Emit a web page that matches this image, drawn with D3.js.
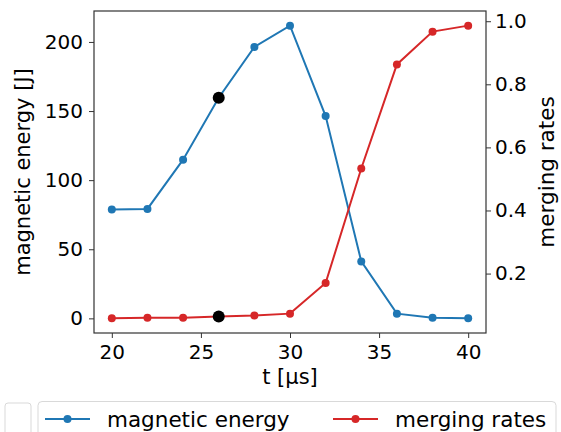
<!DOCTYPE html>
<html>
<head>
<meta charset="utf-8">
<script src="https://cdn.jsdelivr.net/npm/d3@7"></script>
<style>
  body { margin: 0; background: #fff; }
  text { font-family: "DejaVu Sans", sans-serif; fill: #000; }
</style>
</head>
<body>
<div id="chart"></div>
<script>
// data
let times = [20, 22, 24, 26, 28, 30, 32, 34, 36, 38, 40];
let energy = [78.7, 79.2, 114.8, 159.6, 196.4, 211.8, 146.4, 41.2, 3.4, 0.5, 0.0];
let rates = [0.058, 0.060, 0.060, 0.064, 0.067, 0.073, 0.17, 0.533, 0.863, 0.967, 0.986];
let highlightT = 26;
let xTicks = [20, 25, 30, 35, 40];
let leftTicks = [0, 50, 100, 150, 200];
let rightTicks = [0.2, 0.4, 0.6, 0.8, 1.0];
let seriesNames = ["magnetic energy", "merging rates"];
let colors = ["#1f77b4", "#d62728"];

let margin = {top: 11, right: 75, bottom: 99, left: 94};
let W = 561, H = 432;
let w = W - margin.left - margin.right;
let h = H - margin.top - margin.bottom;

let svg = d3.select("#chart").append("svg")
    .attr("width", W)
    .attr("height", H);

let g = svg.append("g")
    .attr("transform", `translate(${margin.left}, ${margin.top})`);

// matplotlib style 5% margins
function padded(lo, hi) {
  let p = (hi - lo) * 0.05;
  return [lo - p, hi + p];
}

let x = d3.scaleLinear().domain(padded(20, 40)).range([0, w]);
let yl = d3.scaleLinear().domain(padded(0, d3.max(energy))).range([h, 0]);
let yr = d3.scaleLinear().domain(padded(d3.min(rates), d3.max(rates))).range([h, 0]);

let tickFs = 20;
let labelFs = 21;
let legendFs = 21.5;

function styleAxis(sel) {
  sel.selectAll(".domain").remove();
  sel.selectAll(".tick line").attr("stroke", "#333").attr("stroke-width", 1);
  sel.selectAll(".tick text").attr("font-size", tickFs).attr("font-family", "DejaVu Sans").attr("fill", "#000");
}

g.append("g")
    .attr("transform", `translate(0, ${h})`)
    .call(d3.axisBottom(x).tickValues(xTicks).tickSize(5).tickPadding(7))
    .call(styleAxis);

g.append("g")
    .call(d3.axisLeft(yl).tickValues(leftTicks).tickSize(5).tickPadding(6))
    .call(styleAxis);

g.append("g")
    .attr("transform", `translate(${w}, 0)`)
    .call(d3.axisRight(yr).tickValues(rightTicks).tickFormat(d3.format(".1f")).tickSize(5).tickPadding(4))
    .call(styleAxis);

// frame
g.append("rect")
    .attr("width", w).attr("height", h)
    .attr("fill", "none").attr("stroke", "#333").attr("stroke-width", 1.2);

// series
let series = [
  {vals: energy, y: yl, color: colors[0]},
  {vals: rates, y: yr, color: colors[1]}
];

series.forEach(function(s) {
  let pts = times.map((t, i) => [t, s.vals[i]]);
  g.append("path")
      .datum(pts)
      .attr("fill", "none")
      .attr("stroke", s.color)
      .attr("stroke-width", 2)
      .attr("d", d3.line().x(d => x(d[0])).y(d => s.y(d[1])));
  g.selectAll(null)
      .data(pts)
      .enter().append("circle")
      .attr("cx", d => x(d[0]))
      .attr("cy", d => s.y(d[1]))
      .attr("r", 4)
      .attr("fill", s.color);
  let hi = pts.find(d => d[0] === highlightT);
  g.append("circle")
      .attr("cx", x(hi[0]))
      .attr("cy", s.y(hi[1]))
      .attr("r", 6)
      .attr("fill", "#000");
});

// axis labels
g.append("text")
    .attr("x", w / 2).attr("y", h + 51)
    .attr("text-anchor", "middle")
    .attr("font-size", labelFs)
    .text("t [μs]");

g.append("text")
    .attr("transform", `translate(${-64}, ${h / 2}) rotate(-90)`)
    .attr("text-anchor", "middle")
    .attr("font-size", labelFs)
    .text("magnetic energy [J]");

g.append("text")
    .attr("transform", `translate(${w + 68}, ${h / 2}) rotate(-90)`)
    .attr("text-anchor", "middle")
    .attr("font-size", legendFs)
    .text("merging rates");

// legend (cut off at bottom)
svg.append("rect")
    .attr("x", 5).attr("y", 403).attr("width", 26).attr("height", 60)
    .attr("rx", 3).attr("fill", "#fff").attr("stroke", "#d9d9d9");

svg.append("rect")
    .attr("x", 38).attr("y", 401.5).attr("width", 518).attr("height", 60)
    .attr("rx", 4).attr("fill", "#fff").attr("stroke", "#d9d9d9");

let legendX = [45, 333];
seriesNames.forEach(function(name, i) {
  let lx = legendX[i];
  svg.append("line")
      .attr("x1", lx).attr("x2", lx + 45)
      .attr("y1", 419).attr("y2", 419)
      .attr("stroke", colors[i]).attr("stroke-width", 2);
  svg.append("circle")
      .attr("cx", lx + 22.5).attr("cy", 419).attr("r", 4)
      .attr("fill", colors[i]);
  svg.append("text")
      .attr("x", lx + 62).attr("y", 419)
      .attr("dy", "0.35em")
      .attr("font-size", legendFs)
      .text(name);
});
</script>
</body>
</html>
